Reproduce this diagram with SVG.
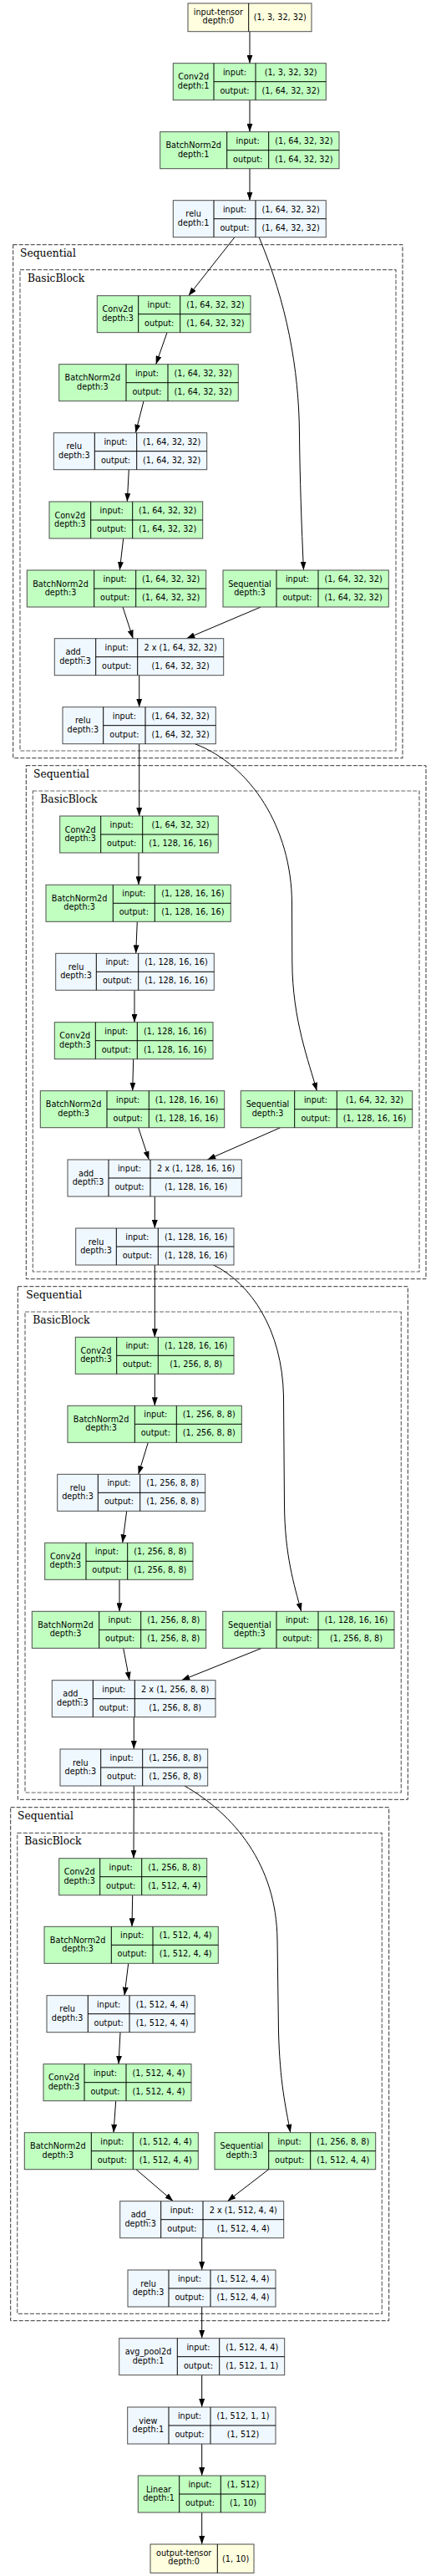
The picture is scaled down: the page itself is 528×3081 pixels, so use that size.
<svg xmlns="http://www.w3.org/2000/svg" width="528" height="3081" viewBox="0 0 528 3081">
<style>
.m{fill:#c1ffc1;stroke:#4d4d4d;stroke-width:1}
.f{fill:#f0f8ff;stroke:#4d4d4d;stroke-width:1}
.y{fill:#ffffe0;stroke:#4d4d4d;stroke-width:1}
.ln{fill:none;stroke:#000;stroke-width:1}
.t{font-family:"DejaVu Sans",sans-serif;font-size:9.7px;text-anchor:middle;fill:#000}
.cl{font-family:"DejaVu Serif",serif;font-size:12.3px;fill:#000}
.co{fill:none;stroke:#333;stroke-width:1;stroke-dasharray:5,2}
.ci{fill:none;stroke:#666;stroke-width:1.2;stroke-dasharray:5,2}
.e{fill:none;stroke:#000;stroke-width:1;marker-end:url(#ah)}
</style>
<defs>
<marker id="ah" markerUnits="userSpaceOnUse" viewBox="0 0 10 7" refX="10" refY="3.5" markerWidth="10" markerHeight="7" orient="auto"><path d="M0,0L10,3.5L0,7z" fill="#000"/></marker>
</defs>
<rect x="0" y="0" width="528" height="3081" fill="#fff"/>
<g id="clusters">
<rect class="co" x="15.7" y="292.7" width="466.3" height="614"/>
<text class="cl" x="24" y="306.7">Sequential</text>
<rect class="ci" x="24" y="322.7" width="450" height="575.3"/>
<text class="cl" x="33" y="336.7">BasicBlock</text>
<rect class="co" x="31.3" y="915.7" width="478.7" height="614"/>
<text class="cl" x="40" y="929.7">Sequential</text>
<rect class="ci" x="39.3" y="946" width="462.7" height="575"/>
<text class="cl" x="48.3" y="960">BasicBlock</text>
<rect class="co" x="21.3" y="1538.7" width="467" height="613.6"/>
<text class="cl" x="31.3" y="1552.7">Sequential</text>
<rect class="ci" x="30" y="1569" width="450.3" height="575"/>
<text class="cl" x="39.3" y="1583">BasicBlock</text>
<rect class="co" x="12.7" y="2161.7" width="453" height="614"/>
<text class="cl" x="21" y="2175.7">Sequential</text>
<rect class="ci" x="20.7" y="2192.3" width="436.6" height="575"/>
<text class="cl" x="29.3" y="2206.3">BasicBlock</text>
</g>
<g id="edges">
<path class="e" d="M299,37.7L299,75.7"/>
<path class="e" d="M299,119.7L299,157.7"/>
<path class="e" d="M299,201.7L299,239.7"/>
<path class="e" d="M280.7,284L225.7,353.7"/>
<path class="e" d="M310.3,284C343,362 358,440 358.5,520C359,570 361,630 363.5,681.7"/>
<path class="e" d="M200,397.7L186.7,435.7"/>
<path class="e" d="M172,479.7L162.3,517.7"/>
<path class="e" d="M154.3,561.7L152.3,600"/>
<path class="e" d="M147.7,644L143.3,682"/>
<path class="e" d="M147,726L159.3,763.7"/>
<path class="e" d="M312.3,726L223.3,763.7"/>
<path class="e" d="M166.7,807.7L166.7,845.7"/>
<path class="e" d="M166.7,889.7L166.7,976"/>
<path class="e" d="M233.3,889.7C300,915 349,990 349.5,1080L349.8,1150C350,1220 370,1270 379.3,1304.7"/>
<path class="e" d="M166,1020L166,1058.3"/>
<path class="e" d="M164.3,1102.3L162.7,1140.3"/>
<path class="e" d="M161,1184.3L161,1222.7"/>
<path class="e" d="M159.7,1266.7L158.7,1304.7"/>
<path class="e" d="M165.7,1348.7L178.3,1387"/>
<path class="e" d="M335.7,1348.7L248.3,1387"/>
<path class="e" d="M185.3,1431L185.3,1469"/>
<path class="e" d="M185.3,1513L185.3,1599.3"/>
<path class="e" d="M255.7,1513C300,1535 338,1590 339.5,1670L340.5,1800C341,1860 352,1895 360.7,1927.3"/>
<path class="e" d="M185.3,1643.3L185.3,1681.3"/>
<path class="e" d="M177.3,1725.3L165.7,1763.3"/>
<path class="e" d="M151.7,1807.3L146.7,1845.3"/>
<path class="e" d="M143,1889.3L143,1927.3"/>
<path class="e" d="M147.7,1971.3L155,2009.7"/>
<path class="e" d="M313.3,1971.3L217.3,2009.7"/>
<path class="e" d="M160.3,2053.7L160.3,2092"/>
<path class="e" d="M160.3,2136L160,2222.7"/>
<path class="e" d="M221,2136C280,2170 331,2230 332,2320L333.5,2430C335,2490 342,2520 347.7,2550.7"/>
<path class="e" d="M158.7,2266.7L158,2304.3"/>
<path class="e" d="M153.7,2348.3L149,2386.7"/>
<path class="e" d="M144,2430.7L142,2468.7"/>
<path class="e" d="M138.7,2512.7L136,2550.7"/>
<path class="e" d="M163,2594.7L207.3,2632.7"/>
<path class="e" d="M321.7,2594.7L272.3,2632.7"/>
<path class="e" d="M241.7,2676.7L241.7,2715"/>
<path class="e" d="M241.7,2759L241.7,2796.7"/>
<path class="e" d="M241.7,2840.7L241.7,2879"/>
<path class="e" d="M241.7,2923L241.7,2961"/>
<path class="e" d="M241.7,3005L241.7,3043"/>
</g>
<g id="n0"><rect class="y" x="225" y="4" width="148" height="33.7"/><path class="ln" d="M297.7,4V37.7"/><text class="t" x="261.35" y="18.3">input-tensor</text><text class="t" x="261.35" y="28.3">depth:0</text><text class="t" x="335.35" y="24.3">(1, 3, 32, 32)</text></g>
<g id="n1"><rect class="m" x="207.3" y="75.7" width="183" height="44"/><path class="ln" d="M256,75.7V119.7M306,75.7V119.7M256,97.7H390.3"/><text class="t" x="231.65" y="95.2">Conv2d</text><text class="t" x="231.65" y="105.7">depth:1</text><text class="t" x="281" y="89.7">input:</text><text class="t" x="281" y="111.7">output:</text><text class="t" x="348.15" y="89.7">(1, 3, 32, 32)</text><text class="t" x="348.15" y="111.7">(1, 64, 32, 32)</text></g>
<g id="n2"><rect class="m" x="191.7" y="157.7" width="214.3" height="44"/><path class="ln" d="M271.7,157.7V201.7M321.7,157.7V201.7M271.7,179.7H406"/><text class="t" x="231.7" y="177.2">BatchNorm2d</text><text class="t" x="231.7" y="187.7">depth:1</text><text class="t" x="296.7" y="171.7">input:</text><text class="t" x="296.7" y="193.7">output:</text><text class="t" x="363.85" y="171.7">(1, 64, 32, 32)</text><text class="t" x="363.85" y="193.7">(1, 64, 32, 32)</text></g>
<g id="n3"><rect class="f" x="207.3" y="239.7" width="183" height="44"/><path class="ln" d="M256,239.7V283.7M306,239.7V283.7M256,261.7H390.3"/><text class="t" x="231.65" y="259.2">relu</text><text class="t" x="231.65" y="269.7">depth:1</text><text class="t" x="281" y="253.7">input:</text><text class="t" x="281" y="275.7">output:</text><text class="t" x="348.15" y="253.7">(1, 64, 32, 32)</text><text class="t" x="348.15" y="275.7">(1, 64, 32, 32)</text></g>
<g id="n4"><rect class="m" x="116.3" y="353.7" width="183.7" height="44"/><path class="ln" d="M165.7,353.7V397.7M215.7,353.7V397.7M165.7,375.7H300"/><text class="t" x="141" y="373.2">Conv2d</text><text class="t" x="141" y="383.7">depth:3</text><text class="t" x="190.7" y="367.7">input:</text><text class="t" x="190.7" y="389.7">output:</text><text class="t" x="257.85" y="367.7">(1, 64, 32, 32)</text><text class="t" x="257.85" y="389.7">(1, 64, 32, 32)</text></g>
<g id="n5"><rect class="m" x="70.7" y="435.7" width="214.6" height="44"/><path class="ln" d="M151,435.7V479.7M201,435.7V479.7M151,457.7H285.3"/><text class="t" x="110.85" y="455.2">BatchNorm2d</text><text class="t" x="110.85" y="465.7">depth:3</text><text class="t" x="176" y="449.7">input:</text><text class="t" x="176" y="471.7">output:</text><text class="t" x="243.15" y="449.7">(1, 64, 32, 32)</text><text class="t" x="243.15" y="471.7">(1, 64, 32, 32)</text></g>
<g id="n6"><rect class="f" x="64.3" y="517.7" width="183.4" height="44"/><path class="ln" d="M113.3,517.7V561.7M163.7,517.7V561.7M113.3,539.7H247.7"/><text class="t" x="88.8" y="537.2">relu</text><text class="t" x="88.8" y="547.7">depth:3</text><text class="t" x="138.5" y="531.7">input:</text><text class="t" x="138.5" y="553.7">output:</text><text class="t" x="205.7" y="531.7">(1, 64, 32, 32)</text><text class="t" x="205.7" y="553.7">(1, 64, 32, 32)</text></g>
<g id="n7"><rect class="m" x="59" y="600" width="183.7" height="44"/><path class="ln" d="M108.7,600V644M158.7,600V644M108.7,622H242.7"/><text class="t" x="83.85" y="619.5">Conv2d</text><text class="t" x="83.85" y="630">depth:3</text><text class="t" x="133.7" y="614">input:</text><text class="t" x="133.7" y="636">output:</text><text class="t" x="200.7" y="614">(1, 64, 32, 32)</text><text class="t" x="200.7" y="636">(1, 64, 32, 32)</text></g>
<g id="n8"><rect class="m" x="32.3" y="682" width="214.4" height="44"/><path class="ln" d="M112.7,682V726M162.7,682V726M112.7,704H246.7"/><text class="t" x="72.5" y="701.5">BatchNorm2d</text><text class="t" x="72.5" y="712">depth:3</text><text class="t" x="137.7" y="696">input:</text><text class="t" x="137.7" y="718">output:</text><text class="t" x="204.7" y="696">(1, 64, 32, 32)</text><text class="t" x="204.7" y="718">(1, 64, 32, 32)</text></g>
<g id="n9"><rect class="m" x="267" y="682" width="198.3" height="44"/><path class="ln" d="M331,682V726M381,682V726M331,704H465.3"/><text class="t" x="299" y="701.5">Sequential</text><text class="t" x="299" y="712">depth:3</text><text class="t" x="356" y="696">input:</text><text class="t" x="356" y="718">output:</text><text class="t" x="423.15" y="696">(1, 64, 32, 32)</text><text class="t" x="423.15" y="718">(1, 64, 32, 32)</text></g>
<g id="n10"><rect class="f" x="65.3" y="763.7" width="202.4" height="44"/><path class="ln" d="M114.7,763.7V807.7M164.7,763.7V807.7M114.7,785.7H267.7"/><text class="t" x="90" y="783.2">add_</text><text class="t" x="90" y="793.7">depth:3</text><text class="t" x="139.7" y="777.7">input:</text><text class="t" x="139.7" y="799.7">output:</text><text class="t" x="216.2" y="777.7">2 x (1, 64, 32, 32)</text><text class="t" x="216.2" y="799.7">(1, 64, 32, 32)</text></g>
<g id="n11"><rect class="f" x="75" y="845.7" width="183.3" height="44"/><path class="ln" d="M123.7,845.7V889.7M174,845.7V889.7M123.7,867.7H258.3"/><text class="t" x="99.35" y="865.2">relu</text><text class="t" x="99.35" y="875.7">depth:3</text><text class="t" x="148.85" y="859.7">input:</text><text class="t" x="148.85" y="881.7">output:</text><text class="t" x="216.15" y="859.7">(1, 64, 32, 32)</text><text class="t" x="216.15" y="881.7">(1, 64, 32, 32)</text></g>
<g id="n12"><rect class="m" x="71.7" y="976" width="189.6" height="44"/><path class="ln" d="M120.7,976V1020M170.7,976V1020M120.7,998H261.3"/><text class="t" x="96.2" y="995.5">Conv2d</text><text class="t" x="96.2" y="1006">depth:3</text><text class="t" x="145.7" y="990">input:</text><text class="t" x="145.7" y="1012">output:</text><text class="t" x="216" y="990">(1, 64, 32, 32)</text><text class="t" x="216" y="1012">(1, 128, 16, 16)</text></g>
<g id="n13"><rect class="m" x="55" y="1058.3" width="221.3" height="44"/><path class="ln" d="M135.3,1058.3V1102.3M185.3,1058.3V1102.3M135.3,1080.3H276.3"/><text class="t" x="95.15" y="1077.8">BatchNorm2d</text><text class="t" x="95.15" y="1088.3">depth:3</text><text class="t" x="160.3" y="1072.3">input:</text><text class="t" x="160.3" y="1094.3">output:</text><text class="t" x="230.8" y="1072.3">(1, 128, 16, 16)</text><text class="t" x="230.8" y="1094.3">(1, 128, 16, 16)</text></g>
<g id="n14"><rect class="f" x="66.7" y="1140.3" width="189.6" height="44"/><path class="ln" d="M115.3,1140.3V1184.3M165.7,1140.3V1184.3M115.3,1162.3H256.3"/><text class="t" x="91" y="1159.8">relu</text><text class="t" x="91" y="1170.3">depth:3</text><text class="t" x="140.5" y="1154.3">input:</text><text class="t" x="140.5" y="1176.3">output:</text><text class="t" x="211" y="1154.3">(1, 128, 16, 16)</text><text class="t" x="211" y="1176.3">(1, 128, 16, 16)</text></g>
<g id="n15"><rect class="m" x="65.3" y="1222.7" width="189.7" height="44"/><path class="ln" d="M114.3,1222.7V1266.7M164.3,1222.7V1266.7M114.3,1244.7H255"/><text class="t" x="89.8" y="1242.2">Conv2d</text><text class="t" x="89.8" y="1252.7">depth:3</text><text class="t" x="139.3" y="1236.7">input:</text><text class="t" x="139.3" y="1258.7">output:</text><text class="t" x="209.65" y="1236.7">(1, 128, 16, 16)</text><text class="t" x="209.65" y="1258.7">(1, 128, 16, 16)</text></g>
<g id="n16"><rect class="m" x="48.3" y="1304.7" width="220.4" height="44"/><path class="ln" d="M128,1304.7V1348.7M178.3,1304.7V1348.7M128,1326.7H268.7"/><text class="t" x="88.15" y="1324.2">BatchNorm2d</text><text class="t" x="88.15" y="1334.7">depth:3</text><text class="t" x="153.15" y="1318.7">input:</text><text class="t" x="153.15" y="1340.7">output:</text><text class="t" x="223.5" y="1318.7">(1, 128, 16, 16)</text><text class="t" x="223.5" y="1340.7">(1, 128, 16, 16)</text></g>
<g id="n17"><rect class="m" x="288.3" y="1304.7" width="205.4" height="44"/><path class="ln" d="M352.7,1304.7V1348.7M403.3,1304.7V1348.7M352.7,1326.7H493.7"/><text class="t" x="320.5" y="1324.2">Sequential</text><text class="t" x="320.5" y="1334.7">depth:3</text><text class="t" x="378" y="1318.7">input:</text><text class="t" x="378" y="1340.7">output:</text><text class="t" x="448.5" y="1318.7">(1, 64, 32, 32)</text><text class="t" x="448.5" y="1340.7">(1, 128, 16, 16)</text></g>
<g id="n18"><rect class="f" x="81" y="1387" width="208.3" height="44"/><path class="ln" d="M130,1387V1431M180,1387V1431M130,1409H289.3"/><text class="t" x="105.5" y="1406.5">add_</text><text class="t" x="105.5" y="1417">depth:3</text><text class="t" x="155" y="1401">input:</text><text class="t" x="155" y="1423">output:</text><text class="t" x="234.65" y="1401">2 x (1, 128, 16, 16)</text><text class="t" x="234.65" y="1423">(1, 128, 16, 16)</text></g>
<g id="n19"><rect class="f" x="90.7" y="1469" width="189.3" height="44"/><path class="ln" d="M139.3,1469V1513M189.3,1469V1513M139.3,1491H280"/><text class="t" x="115" y="1488.5">relu</text><text class="t" x="115" y="1499">depth:3</text><text class="t" x="164.3" y="1483">input:</text><text class="t" x="164.3" y="1505">output:</text><text class="t" x="234.65" y="1483">(1, 128, 16, 16)</text><text class="t" x="234.65" y="1505">(1, 128, 16, 16)</text></g>
<g id="n20"><rect class="m" x="90.3" y="1599.3" width="189.7" height="44"/><path class="ln" d="M139.7,1599.3V1643.3M189.3,1599.3V1643.3M139.7,1621.3H280"/><text class="t" x="115" y="1618.8">Conv2d</text><text class="t" x="115" y="1629.3">depth:3</text><text class="t" x="164.5" y="1613.3">input:</text><text class="t" x="164.5" y="1635.3">output:</text><text class="t" x="234.65" y="1613.3">(1, 128, 16, 16)</text><text class="t" x="234.65" y="1635.3">(1, 256, 8, 8)</text></g>
<g id="n21"><rect class="m" x="81" y="1681.3" width="208.3" height="44"/><path class="ln" d="M161.3,1681.3V1725.3M211.3,1681.3V1725.3M161.3,1703.3H289.3"/><text class="t" x="121.15" y="1700.8">BatchNorm2d</text><text class="t" x="121.15" y="1711.3">depth:3</text><text class="t" x="186.3" y="1695.3">input:</text><text class="t" x="186.3" y="1717.3">output:</text><text class="t" x="250.3" y="1695.3">(1, 256, 8, 8)</text><text class="t" x="250.3" y="1717.3">(1, 256, 8, 8)</text></g>
<g id="n22"><rect class="f" x="68.7" y="1763.3" width="177" height="44"/><path class="ln" d="M117.3,1763.3V1807.3M167.7,1763.3V1807.3M117.3,1785.3H245.7"/><text class="t" x="93" y="1782.8">relu</text><text class="t" x="93" y="1793.3">depth:3</text><text class="t" x="142.5" y="1777.3">input:</text><text class="t" x="142.5" y="1799.3">output:</text><text class="t" x="206.7" y="1777.3">(1, 256, 8, 8)</text><text class="t" x="206.7" y="1799.3">(1, 256, 8, 8)</text></g>
<g id="n23"><rect class="m" x="53.7" y="1845.3" width="177.3" height="44"/><path class="ln" d="M103,1845.3V1889.3M152.7,1845.3V1889.3M103,1867.3H231"/><text class="t" x="78.35" y="1864.8">Conv2d</text><text class="t" x="78.35" y="1875.3">depth:3</text><text class="t" x="127.85" y="1859.3">input:</text><text class="t" x="127.85" y="1881.3">output:</text><text class="t" x="191.85" y="1859.3">(1, 256, 8, 8)</text><text class="t" x="191.85" y="1881.3">(1, 256, 8, 8)</text></g>
<g id="n24"><rect class="m" x="38.3" y="1927.3" width="208.4" height="44"/><path class="ln" d="M118.7,1927.3V1971.3M168.7,1927.3V1971.3M118.7,1949.3H246.7"/><text class="t" x="78.5" y="1946.8">BatchNorm2d</text><text class="t" x="78.5" y="1957.3">depth:3</text><text class="t" x="143.7" y="1941.3">input:</text><text class="t" x="143.7" y="1963.3">output:</text><text class="t" x="207.7" y="1941.3">(1, 256, 8, 8)</text><text class="t" x="207.7" y="1963.3">(1, 256, 8, 8)</text></g>
<g id="n25"><rect class="m" x="266.7" y="1927.3" width="205.3" height="44"/><path class="ln" d="M331,1927.3V1971.3M381,1927.3V1971.3M331,1949.3H472"/><text class="t" x="298.85" y="1946.8">Sequential</text><text class="t" x="298.85" y="1957.3">depth:3</text><text class="t" x="356" y="1941.3">input:</text><text class="t" x="356" y="1963.3">output:</text><text class="t" x="426.5" y="1941.3">(1, 128, 16, 16)</text><text class="t" x="426.5" y="1963.3">(1, 256, 8, 8)</text></g>
<g id="n26"><rect class="f" x="62.3" y="2009.7" width="195.7" height="44"/><path class="ln" d="M111.3,2009.7V2053.7M161.3,2009.7V2053.7M111.3,2031.7H258"/><text class="t" x="86.8" y="2029.2">add_</text><text class="t" x="86.8" y="2039.7">depth:3</text><text class="t" x="136.3" y="2023.7">input:</text><text class="t" x="136.3" y="2045.7">output:</text><text class="t" x="209.65" y="2023.7">2 x (1, 256, 8, 8)</text><text class="t" x="209.65" y="2045.7">(1, 256, 8, 8)</text></g>
<g id="n27"><rect class="f" x="72" y="2092" width="176.7" height="44"/><path class="ln" d="M120.7,2092V2136M170.7,2092V2136M120.7,2114H248.7"/><text class="t" x="96.35" y="2111.5">relu</text><text class="t" x="96.35" y="2122">depth:3</text><text class="t" x="145.7" y="2106">input:</text><text class="t" x="145.7" y="2128">output:</text><text class="t" x="209.7" y="2106">(1, 256, 8, 8)</text><text class="t" x="209.7" y="2128">(1, 256, 8, 8)</text></g>
<g id="n28"><rect class="m" x="70.7" y="2222.7" width="177" height="44"/><path class="ln" d="M119.7,2222.7V2266.7M169.7,2222.7V2266.7M119.7,2244.7H247.7"/><text class="t" x="95.2" y="2242.2">Conv2d</text><text class="t" x="95.2" y="2252.7">depth:3</text><text class="t" x="144.7" y="2236.7">input:</text><text class="t" x="144.7" y="2258.7">output:</text><text class="t" x="208.7" y="2236.7">(1, 256, 8, 8)</text><text class="t" x="208.7" y="2258.7">(1, 512, 4, 4)</text></g>
<g id="n29"><rect class="m" x="53" y="2304.3" width="208.3" height="44"/><path class="ln" d="M133.3,2304.3V2348.3M183,2304.3V2348.3M133.3,2326.3H261.3"/><text class="t" x="93.15" y="2323.8">BatchNorm2d</text><text class="t" x="93.15" y="2334.3">depth:3</text><text class="t" x="158.15" y="2318.3">input:</text><text class="t" x="158.15" y="2340.3">output:</text><text class="t" x="222.15" y="2318.3">(1, 512, 4, 4)</text><text class="t" x="222.15" y="2340.3">(1, 512, 4, 4)</text></g>
<g id="n30"><rect class="f" x="56" y="2386.7" width="177.3" height="44"/><path class="ln" d="M105.3,2386.7V2430.7M155,2386.7V2430.7M105.3,2408.7H233.3"/><text class="t" x="80.65" y="2406.2">relu</text><text class="t" x="80.65" y="2416.7">depth:3</text><text class="t" x="130.15" y="2400.7">input:</text><text class="t" x="130.15" y="2422.7">output:</text><text class="t" x="194.15" y="2400.7">(1, 512, 4, 4)</text><text class="t" x="194.15" y="2422.7">(1, 512, 4, 4)</text></g>
<g id="n31"><rect class="m" x="52" y="2468.7" width="177" height="44"/><path class="ln" d="M101,2468.7V2512.7M151,2468.7V2512.7M101,2490.7H229"/><text class="t" x="76.5" y="2488.2">Conv2d</text><text class="t" x="76.5" y="2498.7">depth:3</text><text class="t" x="126" y="2482.7">input:</text><text class="t" x="126" y="2504.7">output:</text><text class="t" x="190" y="2482.7">(1, 512, 4, 4)</text><text class="t" x="190" y="2504.7">(1, 512, 4, 4)</text></g>
<g id="n32"><rect class="m" x="29.3" y="2550.7" width="208" height="44"/><path class="ln" d="M109.3,2550.7V2594.7M159.3,2550.7V2594.7M109.3,2572.7H237.3"/><text class="t" x="69.3" y="2570.2">BatchNorm2d</text><text class="t" x="69.3" y="2580.7">depth:3</text><text class="t" x="134.3" y="2564.7">input:</text><text class="t" x="134.3" y="2586.7">output:</text><text class="t" x="198.3" y="2564.7">(1, 512, 4, 4)</text><text class="t" x="198.3" y="2586.7">(1, 512, 4, 4)</text></g>
<g id="n33"><rect class="m" x="257" y="2550.7" width="192.7" height="44"/><path class="ln" d="M321.7,2550.7V2594.7M371.7,2550.7V2594.7M321.7,2572.7H449.7"/><text class="t" x="289.35" y="2570.2">Sequential</text><text class="t" x="289.35" y="2580.7">depth:3</text><text class="t" x="346.7" y="2564.7">input:</text><text class="t" x="346.7" y="2586.7">output:</text><text class="t" x="410.7" y="2564.7">(1, 256, 8, 8)</text><text class="t" x="410.7" y="2586.7">(1, 512, 4, 4)</text></g>
<g id="n34"><rect class="f" x="143.7" y="2632.7" width="196" height="44"/><path class="ln" d="M192.7,2632.7V2676.7M243,2632.7V2676.7M192.7,2654.7H339.7"/><text class="t" x="168.2" y="2652.2">add_</text><text class="t" x="168.2" y="2662.7">depth:3</text><text class="t" x="217.85" y="2646.7">input:</text><text class="t" x="217.85" y="2668.7">output:</text><text class="t" x="291.35" y="2646.7">2 x (1, 512, 4, 4)</text><text class="t" x="291.35" y="2668.7">(1, 512, 4, 4)</text></g>
<g id="n35"><rect class="f" x="153" y="2715" width="177" height="44"/><path class="ln" d="M202,2715V2759M252,2715V2759M202,2737H330"/><text class="t" x="177.5" y="2734.5">relu</text><text class="t" x="177.5" y="2745">depth:3</text><text class="t" x="227" y="2729">input:</text><text class="t" x="227" y="2751">output:</text><text class="t" x="291" y="2729">(1, 512, 4, 4)</text><text class="t" x="291" y="2751">(1, 512, 4, 4)</text></g>
<g id="n36"><rect class="f" x="142.7" y="2796.7" width="198" height="44"/><path class="ln" d="M212.3,2796.7V2840.7M262.7,2796.7V2840.7M212.3,2818.7H340.7"/><text class="t" x="177.5" y="2816.2">avg_pool2d</text><text class="t" x="177.5" y="2826.7">depth:1</text><text class="t" x="237.5" y="2810.7">input:</text><text class="t" x="237.5" y="2832.7">output:</text><text class="t" x="301.7" y="2810.7">(1, 512, 4, 4)</text><text class="t" x="301.7" y="2832.7">(1, 512, 1, 1)</text></g>
<g id="n37"><rect class="f" x="152.7" y="2879" width="177.3" height="44"/><path class="ln" d="M202,2879V2923M252,2879V2923M202,2901H330"/><text class="t" x="177.35" y="2898.5">view</text><text class="t" x="177.35" y="2909">depth:1</text><text class="t" x="227" y="2893">input:</text><text class="t" x="227" y="2915">output:</text><text class="t" x="291" y="2893">(1, 512, 1, 1)</text><text class="t" x="291" y="2915">(1, 512)</text></g>
<g id="n38"><rect class="m" x="165.3" y="2961" width="152.4" height="44"/><path class="ln" d="M214.7,2961V3005M264.3,2961V3005M214.7,2983H317.7"/><text class="t" x="190" y="2980.5">Linear</text><text class="t" x="190" y="2991">depth:1</text><text class="t" x="239.5" y="2975">input:</text><text class="t" x="239.5" y="2997">output:</text><text class="t" x="291" y="2975">(1, 512)</text><text class="t" x="291" y="2997">(1, 10)</text></g>
<g id="n39"><rect class="y" x="180" y="3043" width="124" height="34.3"/><path class="ln" d="M260.3,3043V3077.3"/><text class="t" x="220.15" y="3057.3">output-tensor</text><text class="t" x="220.15" y="3067.3">depth:0</text><text class="t" x="282.15" y="3063.5">(1, 10)</text></g>
</svg>
